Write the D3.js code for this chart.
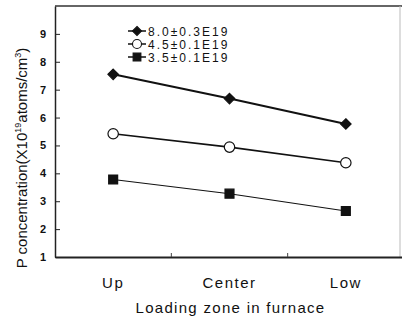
<!DOCTYPE html>
<html><head><meta charset="utf-8">
<script src="https://cdn.jsdelivr.net/npm/d3@7"></script>
<style>body{margin:0;background:#fff}svg{display:block}</style>
</head><body>
<script>
const categories = ["Up", "Center", "Low"];
const seriesNames = ["8.0\u00B10.3E19", "4.5\u00B10.1E19", "3.5\u00B10.1E19"];
const diamondValues = [7.55, 6.68, 5.77];
const circleValues = [5.42, 4.94, 4.38];
const squareValues = [3.78, 3.27, 2.65];
const yTicks = [1, 2, 3, 4, 5, 6, 7, 8, 9];

const W = 402, H = 320;
const m = {l: 55, r: 2, t: 6, b: 63};
const svg = d3.select("body").append("svg").attr("width", W).attr("height", H);
const x = d3.scaleBand().domain(categories).range([m.l, 404]);
const y = d3.scaleLinear().domain([1, 10]).range([H - m.b, m.t]);
const font = "Liberation Sans, Arial, sans-serif";

// frame
svg.append("line").attr("x1", m.l).attr("x2", W).attr("y1", m.t).attr("y2", m.t).attr("stroke", "#333").attr("stroke-width", 1.5);
svg.append("line").attr("x1", 400).attr("x2", 400).attr("y1", m.t).attr("y2", H - m.b).attr("stroke", "#bbb").attr("stroke-width", 1);

// y axis
const yAxis = svg.append("g").attr("transform", `translate(${m.l},0)`)
  .call(d3.axisLeft(y).tickValues(yTicks).tickFormat(d3.format("d")).tickSizeInner(-5).tickSizeOuter(0).tickPadding(9));
yAxis.select(".domain").attr("stroke", "#222").attr("stroke-width", 1.5);
yAxis.selectAll(".tick line").attr("stroke", "#222");
yAxis.selectAll("text").attr("font-family", font).attr("font-size", 11).attr("font-weight", "bold").attr("fill", "#111");

// x axis
const xAxis = svg.append("g").attr("transform", `translate(0,${H - m.b})`)
  .call(d3.axisBottom(x).tickSize(0).tickPadding(20));
xAxis.select(".domain").attr("stroke", "#222").attr("stroke-width", 2);
xAxis.selectAll("text").attr("font-family", font).attr("font-size", 15).attr("letter-spacing", 1.5).attr("fill", "#111");
// inner minor ticks between categories
const midTicks = categories.slice(1).map(c => x(c));
svg.selectAll(".mt").data(midTicks).enter().append("line")
  .attr("x1", d => d).attr("x2", d => d).attr("y1", H - m.b).attr("y2", H - m.b - 4).attr("stroke", "#444");

// titles
svg.append("text").attr("x", (m.l + 404) / 2 + 1).attr("y", 313).attr("text-anchor", "middle")
  .attr("font-family", font).attr("font-size", 15).attr("letter-spacing", 1.3).attr("fill", "#111")
  .text("Loading zone in furnace");
const yt = svg.append("text").attr("transform", "translate(27,158) rotate(-90)").attr("text-anchor", "middle")
  .attr("font-family", font).attr("font-size", 15).attr("fill", "#111");
yt.append("tspan").text("P concentration(X10");
yt.append("tspan").attr("font-size", 9).attr("dy", -6).text("19");
yt.append("tspan").attr("dy", 6).text("atoms/cm");
yt.append("tspan").attr("font-size", 9).attr("dy", -6).text("3");
yt.append("tspan").attr("dy", 6).text(")");

// series
const series = [
  {name: seriesNames[0], values: diamondValues, sym: d3.symbolDiamond2, size: 70, fill: "#111", lw: 2},
  {name: seriesNames[1], values: circleValues, sym: d3.symbolCircle, size: 85, fill: "#fff", lw: 1.6},
  {name: seriesNames[2], values: squareValues, sym: d3.symbolSquare, size: 80, fill: "#111", lw: 1.1}
];
const line = d3.line().x((d, i) => x(categories[i]) + x.bandwidth() / 2).y(d => y(d));
series.forEach(s => {
  svg.append("path").attr("d", line(s.values)).attr("fill", "none").attr("stroke", "#111").attr("stroke-width", s.lw);
  svg.selectAll(null).data(s.values).enter().append("path")
    .attr("d", d3.symbol().type(s.sym).size(s.size))
    .attr("transform", (d, i) => `translate(${x(categories[i]) + x.bandwidth() / 2},${y(d)})`)
    .attr("fill", s.fill).attr("stroke", "#111").attr("stroke-width", 1.2);
});

// legend
const lg = svg.append("g");
const legendY = [31, 44, 57];
series.forEach((s, i) => {
  const g = lg.append("g").attr("transform", `translate(0,${legendY[i]})`);
  g.append("line").attr("x1", 128).attr("x2", 146).attr("y1", 0).attr("y2", 0).attr("stroke", "#111").attr("stroke-width", 1.5);
  g.append("path").attr("d", d3.symbol().type(s.sym).size(s.size * 0.75)).attr("transform", "translate(137,0)")
    .attr("fill", s.fill).attr("stroke", "#111").attr("stroke-width", 1.1);
  g.append("text").attr("x", 148).attr("y", 4.5).attr("font-family", font).attr("font-size", 12)
    .attr("letter-spacing", 2).attr("fill", "#111").text(s.name);
});
</script>
</body></html>
